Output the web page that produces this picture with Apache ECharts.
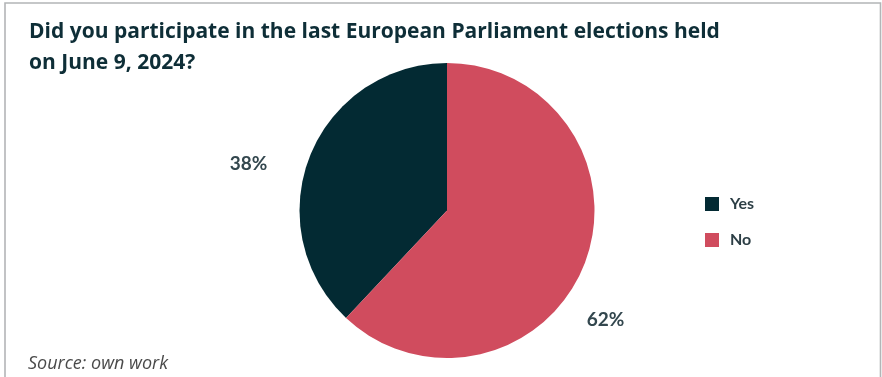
<!DOCTYPE html>
<html>
<head>
<meta charset="utf-8">
<script src="https://cdn.jsdelivr.net/npm/echarts@6/dist/echarts.min.js"></script>
<style>
  html, body { margin: 0; padding: 0; background: #ffffff; }
  #chart { width: 882px; height: 377px; }
</style>
</head>
<body>
<div id="chart"></div>
<script>
// Survey answers and their shares (percent)
const categories = ['Yes', 'No'];
const shares = [38, 62];
const sliceColors = ['#032a33', '#d04c5e'];

const titleText = 'Did you participate in the last European Parliament elections held\non June 9, 2024?';
const sourceText = 'Source: own work';

// Nudge of each percentage label away from its default outside spot
const labelNudges = [[-7, 15], [-33, 48]];

const chart = echarts.init(document.getElementById('chart'), null, { renderer: 'canvas' });

const pieData = categories.map((name, i) => ({
  name: name,
  value: shares[i],
  itemStyle: { color: sliceColors[i] },
  label: { offset: labelNudges[i] }
}));

chart.setOption({
  animation: false,
  backgroundColor: '#ffffff',
  title: {
    text: titleText,
    left: 24,
    top: 17,
    padding: [0, 5, 0, 5],
    textStyle: {
      fontFamily: 'Open Sans',
      fontWeight: 'bold',
      fontSize: 21,
      lineHeight: 31,
      color: '#0e2e37'
    }
  },
  legend: {
    orient: 'vertical',
    left: 705,
    top: 196,
    padding: 0,
    itemWidth: 14,
    itemHeight: 14,
    itemGap: 20,
    icon: 'rect',
    data: categories,
    textStyle: {
      fontFamily: 'Lato',
      fontSize: 16,
      fontWeight: 'bold',
      color: '#2c3e45',
      padding: [0, 0, 0, 6]
    }
  },
  graphic: [
    {
      type: 'rect',
      shape: { x: 5, y: 3, width: 875.5, height: 400 },
      style: { fill: 'none', stroke: '#b3b5b7', lineWidth: 1.6 },
      silent: true,
      z: -1
    },
    {
      type: 'text',
      left: 28,
      top: 355,
      style: {
        text: sourceText,
        fontFamily: 'Open Sans',
        fontStyle: 'italic',
        fontWeight: 'normal',
        fontSize: 18,
        fill: '#4a4a4a'
      }
    }
  ],
  series: [
    {
      type: 'pie',
      center: [447, 210.5],
      radius: [0, 147.5],
      startAngle: 90,
      clockwise: false,
      avoidLabelOverlap: false,
      data: pieData,
      label: {
        show: true,
        position: 'outside',
        formatter: '{c}%',
        fontFamily: 'Lato',
        fontWeight: 'bold',
        fontSize: 19,
        color: '#33474e'
      },
      labelLine: { show: false, length: 20, length2: 12 },
      emphasis: { disabled: true }
    }
  ]
});
</script>
</body>
</html>
